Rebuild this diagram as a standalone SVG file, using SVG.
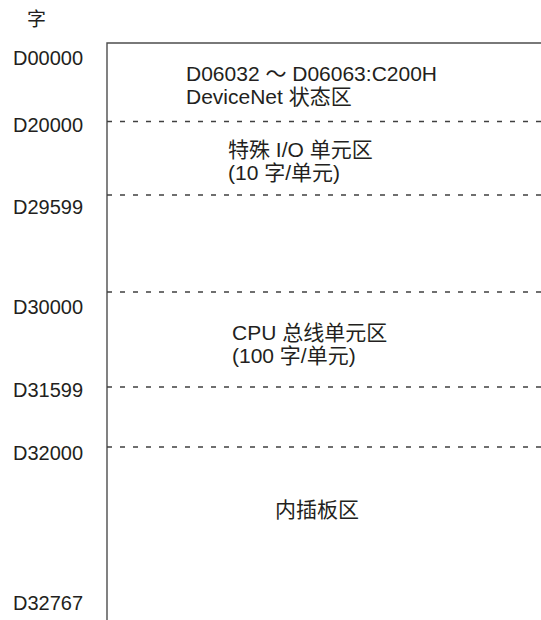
<svg xmlns="http://www.w3.org/2000/svg" width="541" height="620" viewBox="0 0 541 620">
<style>
text{font-family:"Liberation Sans","Noto Sans CJK SC",sans-serif;font-size:21px;fill:#231f20}
.addr{font-size:20px}
.solid{stroke:#4d4d4d;stroke-width:1.4;fill:none}
.dash{stroke:#404040;stroke-width:1.3;stroke-dasharray:5 8;fill:none}
</style>
<rect width="541" height="620" fill="#fff"/>
<text id="unit" x="27" y="26" style="font-size:19px">字</text>
<g id="connectors">
<path class="solid" d="M107,620 V43 H541"/>
<path class="dash" d="M107,121.5 H541"/>
<path class="dash" d="M107,195 H541"/>
<path class="dash" d="M107,292 H541"/>
<path class="dash" d="M107,387 H541"/>
<path class="dash" d="M107,447 H541"/>
</g>
<g id="addresses">
<text class="addr" x="13" y="65">D00000</text>
<text class="addr" x="13" y="132">D20000</text>
<text class="addr" x="13" y="213.5">D29599</text>
<text class="addr" x="13" y="313.5">D30000</text>
<text class="addr" x="13" y="397">D31599</text>
<text class="addr" x="13" y="460">D32000</text>
<text class="addr" x="13" y="610">D32767</text>
</g>
<g id="devicenet">
<text x="186" y="81">D06032 ～ D06063:C200H</text>
<text x="186" y="104">DeviceNet 状态区</text>
</g>
<g id="special-io">
<text x="228" y="157">特殊 I/O 单元区</text>
<text x="228" y="180">(10 字/单元)</text>
</g>
<g id="cpu-bus">
<text x="232" y="340">CPU 总线单元区</text>
<text x="232" y="363">(100 字/单元)</text>
</g>
<g id="inner-board">
<text x="275" y="517">内插板区</text>
</g>
</svg>
